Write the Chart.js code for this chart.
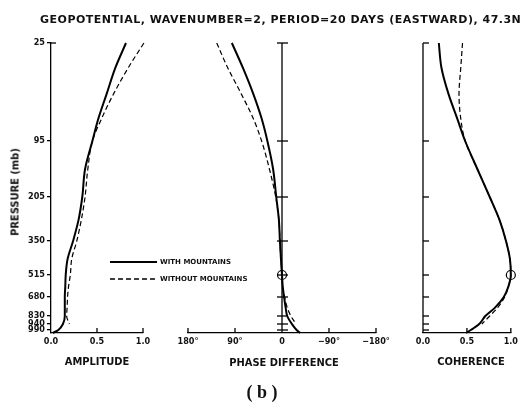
<!DOCTYPE html>
<html>
<head>
<meta charset="utf-8">
<script src="https://cdn.jsdelivr.net/npm/chart.js@4.4.1/dist/chart.umd.min.js"></script>
<style>
  html, body { margin: 0; padding: 0; background: #fff; }
  #wrap { position: relative; width: 521px; height: 404px; overflow: hidden; }
  #wrap canvas { position: absolute; left: 0; top: 0; }
  .txt { position: absolute; color: #111; white-space: nowrap; font-weight: bold; line-height: 1; }
  .narrow { font-family: "Liberation Sans Narrow", "DejaVu Sans Condensed", sans-serif; }
  .wide { font-family: "DejaVu Sans", sans-serif; }
  .mid { transform: translate(-50%, -50%); }
</style>
</head>
<body>
<div id="wrap">
  <canvas id="ampChart" width="521" height="404"></canvas>
  <canvas id="phaseChart" width="521" height="404"></canvas>
  <canvas id="cohChart" width="521" height="404"></canvas>

  <div class="txt wide" style="left:40px; top:14px; font-size:11px; letter-spacing:0.5px;">GEOPOTENTIAL, WAVENUMBER=2, PERIOD=20 DAYS (EASTWARD), 47.3N</div>
  <div class="txt narrow" style="left:15px; top:192px; font-size:11px; transform: translate(-50%, -50%) rotate(-90deg);">PRESSURE (mb)</div>
  <div class="txt narrow mid" style="left:97px; top:361px; font-size:11px;">AMPLITUDE</div>
  <div class="txt narrow mid" style="left:284px; top:362px; font-size:11px;">PHASE DIFFERENCE</div>
  <div class="txt narrow mid" style="left:471px; top:361px; font-size:11px;">COHERENCE</div>

  <svg style="position:absolute; left:0; top:0;" width="521" height="404">
    <line x1="110" y1="262" x2="157" y2="262" stroke="#000" stroke-width="2"/>
    <line x1="110" y1="279" x2="157" y2="279" stroke="#000" stroke-width="1.3" stroke-dasharray="5 3"/>
  </svg>
  <div class="txt wide" style="left:160px; top:262px; font-size:7px; transform: translateY(-50%);">WITH MOUNTAINS</div>
  <div class="txt wide" style="left:160px; top:279px; font-size:7px; transform: translateY(-50%);">WITHOUT MOUNTAINS</div>

  <div class="txt mid" style="left:262px; top:392px; font-size:18px; font-family: 'Liberation Serif', serif;">( b )</div>
</div>

<script>
// labelled pressure levels (mb) and where they sit on the figure's stretched vertical axis
const pressureTicks = [25, 95, 205, 350, 515, 680, 830, 940, 990];
const levelHeight = [290, 192, 136, 92, 58, 36, 17, 9, 3];
const surfacePressure = 1000;

const samplePressure = [25, 35, 50, 70, 95, 140, 205, 270, 350, 430, 515, 600, 680, 760, 830, 940, 990, 1000];

const ampWith     = [0.815, 0.70, 0.605, 0.515, 0.45, 0.37, 0.34, 0.30, 0.24, 0.18, 0.16, 0.155, 0.15, 0.15, 0.15, 0.13, 0.08, 0.02];
const ampWithout  = [1.01, 0.84, 0.68, 0.55, 0.45, 0.40, 0.37, 0.33, 0.28, 0.225, 0.21, 0.19, 0.18, 0.175, 0.17, 0.20, null, null];

const phaseWith    = [96, 75, 55, 39, 28, 17, 11, 6, 4, 2, 0, -1.5, -4, -7, -10, -19, -28, -35];
const phaseWithout = [125, 104, 78, 55, 39, 24, 12, 6, 4, 2, 0, -1.5, -5, -10, -17, -27, null, null];

const cohWith    = [0.18, 0.21, 0.29, 0.39, 0.48, 0.62, 0.76, 0.87, 0.945, 0.99, 1.0, 0.97, 0.92, 0.82, 0.71, 0.64, 0.545, 0.49];
const cohWithout = [0.45, 0.43, 0.41, 0.43, 0.48, 0.62, 0.76, 0.87, 0.945, 0.99, 1.0, 0.97, 0.93, 0.85, 0.76, 0.67, null, null];

// open circles where both runs are referenced (515 mb)
const refPressure = 515;
const refPhase = 0;
const refCoherence = 1.0;

const ampTicks = [0, 0.5, 1.0];
const ampTickLabels = ['0.0', '0.5', '1.0'];
const phaseTicks = [180, 90, 0, -90, -180];
const phaseTickLabels = ['180°', '90°', '0', '\u221290°', '\u2212180°'];
const cohTicks = [0, 0.5, 1.0];
const cohTickLabels = ['0.0', '0.5', '1.0'];

const mapPressure = pressureTicks.concat([surfacePressure]);
const mapHeight = levelHeight.concat([0]);

// pressure -> vertical axis value, linear in ln(p) between labelled levels
function heightOf(p) {
    for (let i = 0; i < mapPressure.length - 1; i++) {
        const p0 = mapPressure[i], p1 = mapPressure[i + 1];
        if (p >= p0 && p <= p1) {
            const f = Math.log(p / p0) / Math.log(p1 / p0);
            return mapHeight[i] + f * (mapHeight[i + 1] - mapHeight[i]);
        }
    }
    return 0;
}

function profile(values) {
    const pts = [];
    values.forEach((v, i) => {
        if (v !== null) pts.push({ x: v, y: heightOf(samplePressure[i]) });
    });
    return pts;
}

const LABEL_FONT = { family: '"Liberation Sans Narrow", "DejaVu Sans Condensed", sans-serif', size: 9, weight: 'bold' };

function solidSet(values) {
    return {
        data: profile(values), borderColor: '#000', borderWidth: 2,
        pointRadius: 0, cubicInterpolationMode: 'monotone', clip: false
    };
}
function dashedSet(values) {
    return {
        data: profile(values), borderColor: '#000', borderWidth: 1.2, borderDash: [5, 3],
        pointRadius: 0, cubicInterpolationMode: 'monotone', clip: false
    };
}
function circleSet(x) {
    return {
        data: [{ x: x, y: heightOf(refPressure) }], showLine: false,
        pointRadius: 4.5, pointStyle: 'circle', pointBackgroundColor: 'rgba(0,0,0,0)',
        pointBorderColor: '#000', pointBorderWidth: 1.2, clip: false
    };
}

function line(ctx, x1, y1, x2, y2) {
    ctx.beginPath();
    ctx.moveTo(x1, y1);
    ctx.lineTo(x2, y2);
    ctx.stroke();
}

// inward tick marks, the zero spine of the phase panel, the left spine of coherence
const figureAxes = {
    id: 'figureAxes',
    afterDraw(chart, args, opts) {
        const { ctx, chartArea: a, scales: { x, y } } = chart;
        ctx.save();
        ctx.strokeStyle = '#000';
        ctx.lineWidth = 1.3;
        (opts.upTicks || []).forEach(v => {
            const px = x.getPixelForValue(v);
            line(ctx, px, a.bottom, px, a.bottom - 5);
        });
        if (opts.spine !== undefined) {
            const px = x.getPixelForValue(opts.spine);
            line(ctx, px, a.top, px, a.bottom);
            const left = opts.spineTicks === 'right' ? 0 : 5;
            levelHeight.forEach(h => {
                const py = y.getPixelForValue(h);
                line(ctx, px - left, py, px + 6, py);
            });
        }
        if (opts.topCap) {
            line(ctx, a.left, a.top, a.left + 5, a.top);
        }
        ctx.restore();
    }
};

function makeChart(id, datasets, xMin, xMax, reverse, xTicks, xLabels, pad, showY, axesOpts) {
    return new Chart(document.getElementById(id), {
        type: 'line',
        data: { datasets: datasets },
        plugins: [figureAxes],
        options: {
            responsive: false,
            animation: false,
            indexAxis: 'y',
            layout: { autoPadding: false, padding: pad },
            plugins: { legend: { display: false }, tooltip: { enabled: false }, figureAxes: axesOpts },
            scales: {
                x: {
                    type: 'linear', position: 'bottom', min: xMin, max: xMax, reverse: reverse,
                    afterBuildTicks: s => { s.ticks = xTicks.map(v => ({ value: v })); },
                    afterFit: s => { s.height = 20; },
                    ticks: {
                        autoSkip: false, maxRotation: 0, padding: 3, color: '#111', font: LABEL_FONT,
                        callback: v => xLabels[xTicks.indexOf(v)]
                    },
                    grid: { drawOnChartArea: false, drawTicks: false, color: '#000', lineWidth: 1.3 },
                    border: { display: true, color: '#000', width: 1.3 }
                },
                y: {
                    type: 'linear', position: 'left', min: 0, max: levelHeight[0],
                    display: showY,
                    afterBuildTicks: s => { s.ticks = levelHeight.map(v => ({ value: v })); },
                    afterFit: s => { if (showY) s.width = 30; },
                    ticks: {
                        autoSkip: false, padding: 2, color: '#111', font: LABEL_FONT,
                        callback: v => String(pressureTicks[levelHeight.indexOf(v)])
                    },
                    grid: { drawOnChartArea: false, drawTicks: true, tickLength: 4, color: '#000', lineWidth: 1.3 },
                    border: { display: true, color: '#000', width: 1.3 }
                }
            }
        }
    });
}

makeChart('ampChart',
    [solidSet(ampWith), dashedSet(ampWithout)],
    0, 1.0, false, ampTicks, ampTickLabels,
    { left: 21, right: 378, top: 43, bottom: 51 }, true,
    { upTicks: [0.5, 1.0], topCap: true });

makeChart('phaseChart',
    [solidSet(phaseWith), dashedSet(phaseWithout), circleSet(refPhase)],
    -180, 180, true, phaseTicks, phaseTickLabels,
    { left: 188, right: 145, top: 43, bottom: 51 }, false,
    { upTicks: [180, 90, -90, -180], spine: 0 });

makeChart('cohChart',
    [solidSet(cohWith), dashedSet(cohWithout), circleSet(refCoherence)],
    0, 1.0, false, cohTicks, cohTickLabels,
    { left: 423, right: 6, top: 43, bottom: 51 }, false,
    { upTicks: [0.5, 1.0], spine: 0, spineTicks: 'right' });
</script>
</body>
</html>
